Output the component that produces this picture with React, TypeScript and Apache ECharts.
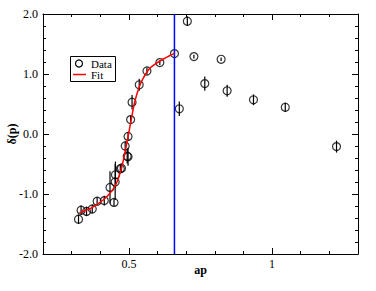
import React, { useEffect, useRef } from "react";
import * as echarts from "echarts";

const dataX = [0.324, 0.333, 0.352, 0.372, 0.389, 0.414, 0.434, 0.448, 0.452, 0.453, 0.470, 0.474, 0.487, 0.494, 0.497, 0.497, 0.506, 0.511, 0.536, 0.563, 0.608, 0.659, 0.676, 0.704, 0.727, 0.765, 0.822, 0.843, 0.935, 1.046, 1.225];
const dataY = [-1.42, -1.27, -1.29, -1.25, -1.12, -1.11, -0.89, -1.14, -0.80, -0.68, -0.58, -0.57, -0.20, -0.37, -0.38, -0.04, 0.24, 0.53, 0.82, 1.05, 1.19, 1.34, 0.42, 1.88, 1.29, 0.84, 1.245, 0.72, 0.57, 0.445, -0.21];
const dataErr = [0.08, 0.08, 0.08, 0.07, 0.07, 0.08, 0.27, 0.06, 0.30, 0.22, 0.07, 0.08, 0.08, 0.12, 0.15, 0.07, 0.07, 0.12, 0.10, 0.06, 0.04, 0.03, 0.12, 0.08, 0.03, 0.12, 0.03, 0.10, 0.09, 0.08, 0.10];

const fitX = [0.327, 0.35, 0.37, 0.39, 0.41, 0.43, 0.45, 0.46, 0.47, 0.48, 0.49, 0.50, 0.51, 0.52, 0.535, 0.55, 0.57, 0.59, 0.62, 0.64, 0.659];
const fitY = [-1.31, -1.27, -1.23, -1.17, -1.10, -1.01, -0.88, -0.78, -0.64, -0.45, -0.22, 0.03, 0.29, 0.53, 0.77, 0.93, 1.08, 1.16, 1.25, 1.30, 1.345];

const cutX = 0.659;
const xMin = 0.2;
const xMax = 1.3;
const xMajor = [0.5, 1];
const yMin = -2;
const yMax = 2;

const FONT = "Liberation Serif";

export default function App() {
  const ref = useRef<HTMLDivElement>(null);
  useEffect(() => {
    if (!ref.current) return;
    const chart = echarts.init(ref.current, null, { renderer: "svg" });
    const axisLine = { show: true, onZero: false, lineStyle: { color: "#000", width: 1 } };
    const noLine = { show: false, onZero: false };
    const xBase = { type: "value", min: xMin, max: xMax, splitLine: { show: false } };
    const yBase = { type: "value", min: yMin, max: yMax, interval: 1, splitLine: { show: false } };
    const points = dataX.map((x, i) => [x, dataY[i], dataErr[i]]);
    const fit = fitX.map((x, i) => [x, fitY[i]]);
    chart.setOption({
      animation: false,
      grid: { left: 43, top: 14, right: 18, bottom: 37, containLabel: false, outerBoundsMode: "none" },
      xAxis: [
        {
          ...xBase,
          position: "bottom",
          interval: 0.1,
          axisLine,
          axisTick: { inside: true, length: 3, lineStyle: { color: "#000" } },
          axisLabel: {
            margin: 4,
            color: "#000",
            fontFamily: FONT,
            fontSize: 12,
            formatter: (v: number) =>
              Math.abs(v - 0.5) < 1e-6 ? "0.5" : Math.abs(v - 1) < 1e-6 ? "1" : "",
          },
          name: "ap",
          nameLocation: "middle",
          nameGap: 10,
          nameMoveOverlap: false,
          nameTextStyle: { color: "#000", fontFamily: FONT, fontSize: 12, fontWeight: "bold", verticalAlign: "top" },
        },
        {
          ...xBase,
          position: "bottom",
          axisLine: noLine,
          axisTick: { inside: true, length: 6, customValues: xMajor, lineStyle: { color: "#000" } },
          axisLabel: { show: false },
        },
        {
          ...xBase,
          position: "top",
          interval: 0.1,
          axisLine,
          axisTick: { inside: true, length: 3, lineStyle: { color: "#000" } },
          axisLabel: { show: false },
        },
        {
          ...xBase,
          position: "top",
          axisLine: noLine,
          axisTick: { inside: true, length: 6, customValues: xMajor, lineStyle: { color: "#000" } },
          axisLabel: { show: false },
        },
      ],
      yAxis: [
        {
          ...yBase,
          position: "left",
          axisLine,
          axisTick: { inside: true, length: 6, lineStyle: { color: "#000" } },
          minorTick: { show: true, splitNumber: 5, length: 3, lineStyle: { color: "#000" } },
          axisLabel: {
            margin: 5,
            color: "#000",
            fontFamily: FONT,
            fontSize: 12,
            formatter: (v: number) => v.toFixed(1),
          },
          name: "δ(p)",
          nameLocation: "middle",
          nameGap: 25,
          nameMoveOverlap: false,
          nameTextStyle: { color: "#000", fontFamily: FONT, fontSize: 12, fontWeight: "bold" },
        },
        {
          ...yBase,
          position: "right",
          axisLine,
          axisTick: { inside: true, length: 6, lineStyle: { color: "#000" } },
          minorTick: { show: true, splitNumber: 5, length: 3, lineStyle: { color: "#000" } },
          axisLabel: { show: false },
        },
      ],
      series: [
        {
          type: "line",
          xAxisIndex: 0,
          yAxisIndex: 0,
          data: [[cutX, yMin], [cutX, yMax]],
          symbol: "none",
          lineStyle: { color: "#0000ff", width: 1.5 },
          silent: true,
        },
        {
          type: "line",
          xAxisIndex: 0,
          yAxisIndex: 0,
          data: fit,
          symbol: "none",
          smooth: 0.3,
          lineStyle: { color: "#ff0000", width: 1.5 },
          silent: true,
        },
        {
          type: "custom",
          xAxisIndex: 0,
          yAxisIndex: 0,
          data: points,
          renderItem: (params: any, api: any) => {
            const x = api.value(0);
            const y = api.value(1);
            const e = api.value(2);
            const p1 = api.coord([x, y - e]);
            const p2 = api.coord([x, y + e]);
            return {
              type: "line",
              shape: { x1: p1[0], y1: p1[1], x2: p2[0], y2: p2[1] },
              style: { stroke: "#000", lineWidth: 1.2 },
            };
          },
          silent: true,
        },
        {
          type: "scatter",
          xAxisIndex: 0,
          yAxisIndex: 0,
          data: points.map((p) => [p[0], p[1]]),
          symbol: "circle",
          symbolSize: 8,
          itemStyle: { color: "transparent", borderColor: "#000", borderWidth: 1.2 },
          silent: true,
        },
      ],
      graphic: [
        {
          type: "rect",
          shape: { x: 70.5, y: 56.5, width: 45, height: 25 },
          style: { fill: "#fff", stroke: "#000", lineWidth: 1 },
        },
        {
          type: "circle",
          shape: { cx: 79, cy: 63.5, r: 3.5 },
          style: { fill: "none", stroke: "#000", lineWidth: 1.2 },
        },
        {
          type: "text",
          x: 91,
          y: 63.5,
          style: { text: "Data", fill: "#000", font: `11px "${FONT}"`, lineHeight: 10, verticalAlign: "middle" },
        },
        {
          type: "line",
          shape: { x1: 73, y1: 74.5, x2: 86, y2: 74.5 },
          style: { stroke: "#ff0000", lineWidth: 1.5 },
        },
        {
          type: "text",
          x: 91,
          y: 74.5,
          style: { text: "Fit", fill: "#000", font: `11px "${FONT}"`, lineHeight: 10, verticalAlign: "middle" },
        },
      ],
    });
    return () => chart.dispose();
  }, []);
  return <div ref={ref} style={{ width: 376, height: 291, position: "absolute", left: 0, top: 0 }} />;
}
